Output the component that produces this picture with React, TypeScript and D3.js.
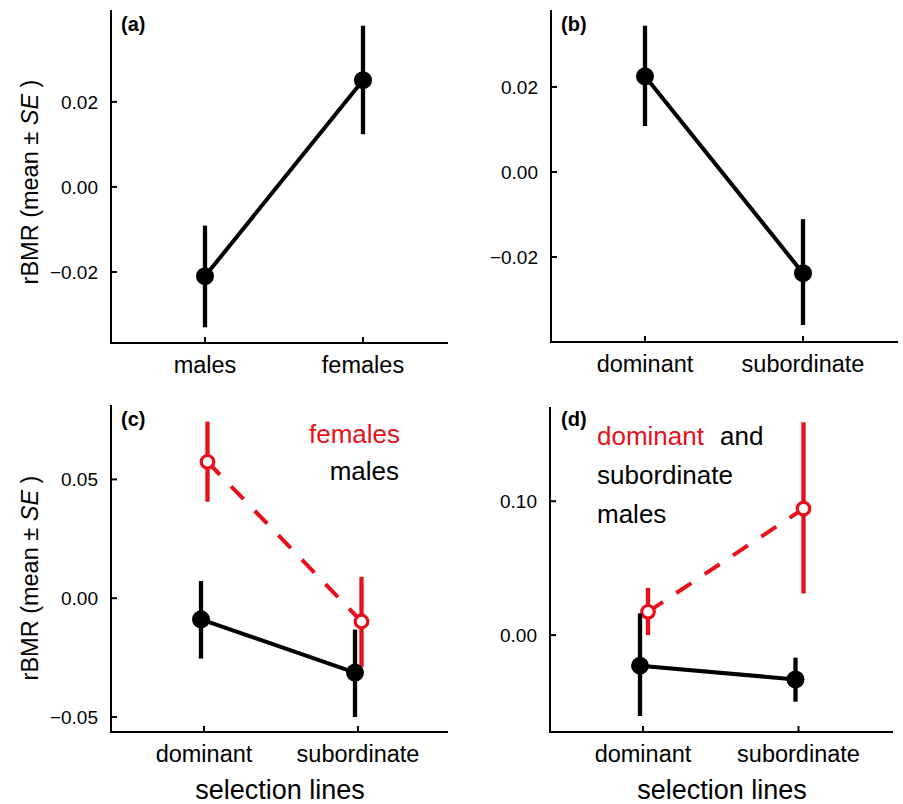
import React from "react";
import * as d3 from "d3";

// ---------------- DATA ----------------
const sexCategories = ["males", "females"];
const lineCategories = ["dominant", "subordinate"];

// panel (a): sex effect
const aMean = [-0.021, 0.0251];
const aLow = [-0.033, 0.0124];
const aHigh = [-0.0091, 0.0379];

// panel (b): selection line effect
const bMean = [0.0225, -0.0238];
const bLow = [0.0108, -0.036];
const bHigh = [0.0344, -0.0111];

// panel (c): females (red) and males (black) by selection line
const cFemMean = [0.0574, -0.0098];
const cFemLow = [0.0406, -0.029];
const cFemHigh = [0.0743, 0.009];
const cMalMean = [-0.0089, -0.0313];
const cMalLow = [-0.0254, -0.05];
const cMalHigh = [0.0072, -0.0132];

// panel (d): dominant males (red) and subordinate males (black)
const dDomMean = [0.0174, 0.0945];
const dDomLow = [0.0, 0.031];
const dDomHigh = [0.0353, 0.159];
const dSubMean = [-0.0229, -0.0331];
const dSubLow = [-0.0604, -0.0498];
const dSubHigh = [0.0162, -0.0169];

const aTicks = [-0.02, 0.0, 0.02];
const bTicks = [-0.02, 0.0, 0.02];
const cTicks = [-0.05, 0.0, 0.05];
const dTicks = [0.0, 0.1];

const yTitleMain = "rBMR (mean \u00b1 ";
const yTitleItalic = "SE";
const xTitle = "selection lines";

// ---------------- STYLE ----------------
const FONT = "'Liberation Sans', Arial, Helvetica, sans-serif";
const RED = "#e8101a";
const BLACK = "#000";

type Series = {
  mean: number[];
  low: number[];
  high: number[];
  color: string;
  open: boolean;
  dashed: boolean;
  dx: number;
};

type PanelProps = {
  left: number;
  right: number;
  top: number;
  bottom: number;
  yDomain: [number, number];
  ticks: number[];
  tickFormat: (v: number) => string;
  cats: string[];
  catRange: [number, number];
  series: Series[];
  label: string;
  labelX: number;
  labelY: number;
};

const fmt2 = (v: number) => (v < 0 ? "\u2212" : "") + Math.abs(v).toFixed(2);

function Panel(p: PanelProps) {
  const y = d3.scaleLinear().domain(p.yDomain).range([p.bottom, p.top]);
  const x = d3.scalePoint<string>().domain(p.cats).range(p.catRange);
  const line = d3
    .line<number>()
    .x((_, i) => x(p.cats[i]) as number)
    .y((v) => y(v));
  return (
    <g>
      {/* axes */}
      <line x1={p.left} x2={p.left} y1={p.top} y2={p.bottom + 1} stroke={BLACK} strokeWidth={2} />
      <line x1={p.left - 1} x2={p.right} y1={p.bottom} y2={p.bottom} stroke={BLACK} strokeWidth={2} />
      {p.ticks.map((t) => (
        <g key={t}>
          <line x1={p.left} x2={p.left + 6} y1={y(t)} y2={y(t)} stroke={BLACK} strokeWidth={2} />
          <text
            x={p.left - 13}
            y={y(t)}
            dy="0.36em"
            textAnchor="end"
            fontSize={19}
            fontFamily={FONT}
          >
            {p.tickFormat(t)}
          </text>
        </g>
      ))}
      {p.cats.map((c) => (
        <g key={c}>
          <line x1={x(c)} x2={x(c)} y1={p.bottom} y2={p.bottom - 6} stroke={BLACK} strokeWidth={2} />
          <text x={x(c)} y={p.bottom + 30} textAnchor="middle" fontSize={23.5} fontFamily={FONT}>
            {c}
          </text>
        </g>
      ))}
      {/* series */}
      {p.series.map((s, si) => (
        <g key={si} transform={`translate(${s.dx},0)`}>
          <path
            d={line(s.mean) as string}
            fill="none"
            stroke={s.color}
            strokeWidth={4}
            strokeDasharray={s.dashed ? "18,16" : undefined}
          />
          {s.mean.map((m, i) => (
            <line
              key={"e" + i}
              x1={x(p.cats[i])}
              x2={x(p.cats[i])}
              y1={y(s.low[i])}
              y2={y(s.high[i])}
              stroke={s.color}
              strokeWidth={4.3}
            />
          ))}
          {s.mean.map((m, i) =>
            s.open ? (
              <circle
                key={"c" + i}
                cx={x(p.cats[i])}
                cy={y(m)}
                r={6.3}
                fill="#fff"
                stroke={s.color}
                strokeWidth={3.2}
              />
            ) : (
              <circle key={"c" + i} cx={x(p.cats[i])} cy={y(m)} r={9} fill={s.color} />
            )
          )}
        </g>
      ))}
      <text x={p.labelX} y={p.labelY} fontSize={20} fontWeight="bold" fontFamily={FONT}>
        {p.label}
      </text>
    </g>
  );
}

function YTitle({ x, y }: { x: number; y: number }) {
  return (
    <text
      transform={`translate(${x},${y}) rotate(-90)`}
      textAnchor="middle"
      fontSize={23.5}
      fontFamily={FONT}
    >
      {yTitleMain}
      <tspan fontStyle="italic">{yTitleItalic}</tspan>
      {" )"}
    </text>
  );
}

export default function App() {
  const blackSolid = (mean: number[], low: number[], high: number[], dx = 0): Series => ({
    mean,
    low,
    high,
    color: BLACK,
    open: false,
    dashed: false,
    dx,
  });
  const redOpen = (mean: number[], low: number[], high: number[], dx = 0): Series => ({
    mean,
    low,
    high,
    color: RED,
    open: true,
    dashed: true,
    dx,
  });

  return (
    <svg
      width={903}
      height={804}
      style={{ position: "absolute", left: 0, top: 0, background: "#fff" }}
    >
      {/* (a) */}
      <Panel
        left={111}
        right={448}
        top={10}
        bottom={343}
        yDomain={[-0.0367, 0.0416]}
        ticks={aTicks}
        tickFormat={fmt2}
        cats={sexCategories}
        catRange={[205, 363]}
        series={[blackSolid(aMean, aLow, aHigh)]}
        label="(a)"
        labelX={121}
        labelY={31}
      />
      {/* (b) */}
      <Panel
        left={551}
        right={898}
        top={10}
        bottom={342}
        yDomain={[-0.04, 0.0381]}
        ticks={bTicks}
        tickFormat={fmt2}
        cats={lineCategories}
        catRange={[645, 803]}
        series={[blackSolid(bMean, bLow, bHigh)]}
        label="(b)"
        labelX={561}
        labelY={31}
      />
      {/* (c) */}
      <Panel
        left={111}
        right={448}
        top={405}
        bottom={732}
        yDomain={[-0.0563, 0.0813]}
        ticks={cTicks}
        tickFormat={fmt2}
        cats={lineCategories}
        catRange={[204, 358]}
        series={[
          redOpen(cFemMean, cFemLow, cFemHigh, 3.5),
          blackSolid(cMalMean, cMalLow, cMalHigh, -3),
        ]}
        label="(c)"
        labelX={121}
        labelY={426}
      />
      {/* (d) */}
      <Panel
        left={550}
        right={893}
        top={407}
        bottom={732}
        yDomain={[-0.0724, 0.1704]}
        ticks={dTicks}
        tickFormat={fmt2}
        cats={lineCategories}
        catRange={[643, 798.5]}
        series={[
          redOpen(dDomMean, dDomLow, dDomHigh, 5),
          blackSolid(dSubMean, dSubLow, dSubHigh, -3),
        ]}
        label="(d)"
        labelX={561}
        labelY={426}
      />

      {/* legends */}
      <g fontFamily={FONT} fontSize={26}>
        <text x={400} y={443} textAnchor="end" fill={RED}>females</text>
        <text x={399} y={480} textAnchor="end" fill={BLACK}>males</text>
        <text x={597} y={445} fill={RED}>dominant</text>
        <text x={720} y={445} fill={BLACK}>and</text>
        <text x={597} y={484} fill={BLACK}>subordinate</text>
        <text x={597} y={523} fill={BLACK}>males</text>
      </g>

      {/* axis titles */}
      <YTitle x={38} y={182} />
      <YTitle x={38} y={578} />
      <text x={280} y={799} textAnchor="middle" fontSize={27} fontFamily={FONT}>
        {xTitle}
      </text>
      <text x={722} y={799} textAnchor="middle" fontSize={27} fontFamily={FONT}>
        {xTitle}
      </text>
    </svg>
  );
}
